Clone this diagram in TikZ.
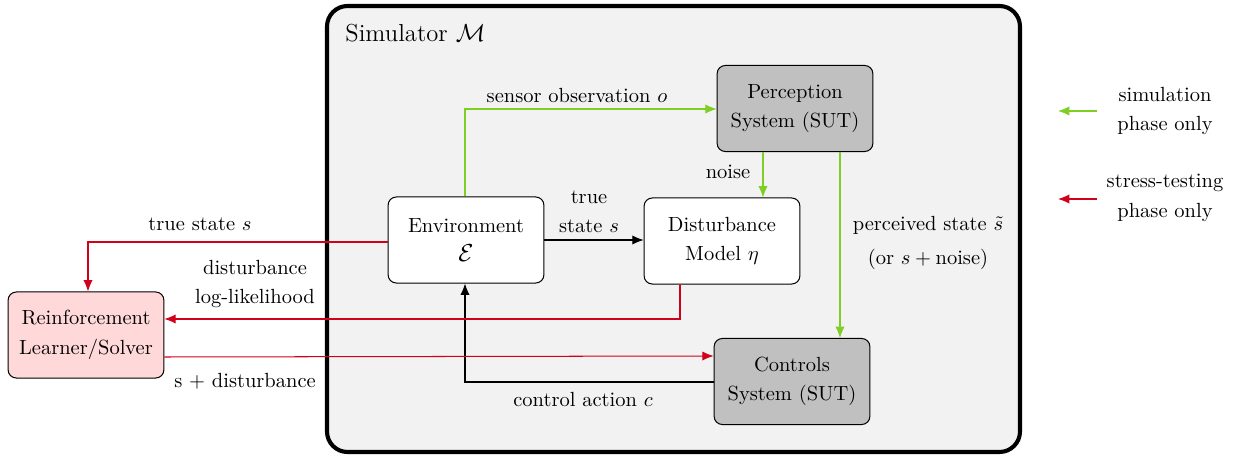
\documentclass[tikz,border=0pt]{standalone}
\usetikzlibrary{arrows.meta,positioning,calc}
\definecolor{simgreen}{RGB}{126,206,36}
\definecolor{stressred}{RGB}{208,2,27}
\definecolor{simbg}{RGB}{242,242,242}
\definecolor{sutgray}{RGB}{192,192,192}
\definecolor{rlpink}{RGB}{255,217,217}
\begin{document}
\begin{tikzpicture}[x=0.488pt,y=-0.488pt,
  blk/.style={draw=black,line width=0.5pt,rounded corners=4pt,minimum width=76pt,minimum height=42pt,align=center,inner sep=2pt,font=\linespread{1.2}\selectfont},
  conn/.style={line width=0.5pt,-{Latex[length=5.5pt,width=4.5pt]}},
  gr/.style={conn,draw=simgreen,color=simgreen},
  rd/.style={conn,draw=stressred,color=stressred},
  bk/.style={conn,draw=black},
  lbl/.style={align=center,font=\linespread{1.2}\selectfont,inner sep=0pt}]
\useasboundingbox (0,0) rectangle (1245,458);
% simulator frame
\draw[line width=2pt,fill=simbg,rounded corners=10pt] (327,6) rectangle (1020,452);
\node[anchor=west,inner sep=0pt,font=\large] (simlbl) at (345,33) {Simulator $\mathcal{M}$};
% blocks
\node[blk,fill=sutgray] (perc) at (795,108.5) {Perception\\System (SUT)};
\node[blk,fill=white] (env) at (466,240) {Environment\\{\large$\mathcal{E}$}};
\node[blk,fill=white] (dist) at (722,241) {Disturbance\\Model $\eta$};
\node[blk,fill=sutgray] (ctrl) at (792,381.5) {Controls\\System (SUT)};
\node[blk,fill=rlpink] (rl) at (86,335) {Reinforcement\\Learner/Solver};
% coordinates
\coordinate (sA) at (465,109);
\coordinate (cA) at (465,382);
\coordinate (tA) at (88,242);
\coordinate (dA) at (680,319);
% green connectors
\draw[gr] (env.north -| sA) -- (sA) -- (perc.west |- sA);
\draw[gr] (perc.south -| 763,0) -- (dist.north -| 763,0);
\draw[gr] (perc.south -| 840,0) -- (ctrl.north -| 840,0);
% black connectors
\draw[bk] (env.east |- 0,240) -- (dist.west |- 0,240);
\draw[bk] (ctrl.west |- cA) -- (cA) -- (env.south -| cA);
% red connectors
\draw[rd] (env.west |- tA) -- (tA) -- (rl.north -| tA);
\draw[rd] (dist.south -| dA) -- (dA) -- (rl.east |- dA);
\draw[rd] (rl.east |- 0,357) -- (ctrl.west |- 0,356);
% labels
\node[lbl] (l1) at (577,96) {sensor observation $o$};
\node[lbl] (l2) at (728,172) {noise};
\node[lbl] (l3) at (928,243) {perceived state $\tilde{s}$\\[2pt](or $s+\mbox{noise}$)};
\node[lbl] (l4) at (589,212) {true\\state $s$};
\node[lbl] (l5) at (583,400) {control action $c$};
\node[lbl] (l6) at (200,224) {true state $s$};
\node[lbl] (l7) at (255,284) {disturbance\\log-likelihood};
\node[lbl] (l8) at (245,381) {s + disturbance};
% legend
\coordinate (g1) at (1097,111);
\coordinate (g2) at (1058,111);
\coordinate (r1) at (1097,199);
\coordinate (r2) at (1058,199);
\draw[gr] (g1) -- (g2);
\draw[rd] (r1) -- (r2);
\node[lbl] (lg1) at (1165,111) {simulation\\phase only};
\node[lbl] (lg2) at (1165,198) {stress-testing\\phase only};
\end{tikzpicture}
\end{document}
